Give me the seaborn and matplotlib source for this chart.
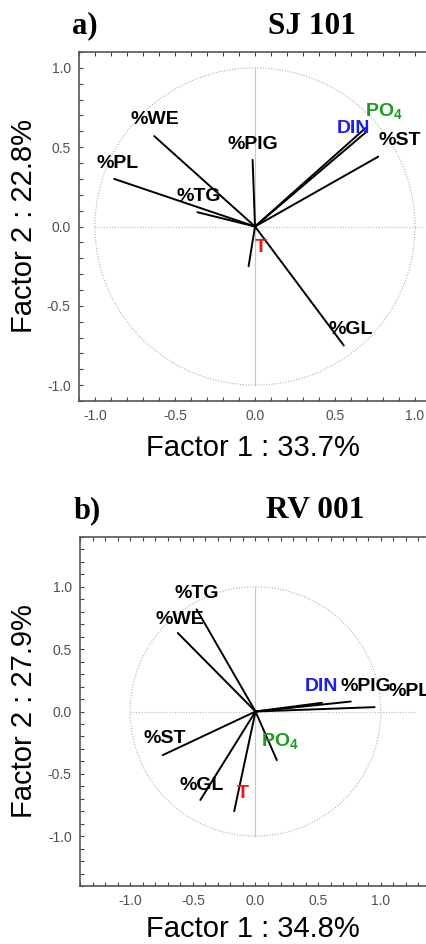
import numpy as np
import pandas as pd
import seaborn as sns
import matplotlib.pyplot as plt
from matplotlib.patches import Circle
from matplotlib.ticker import MultipleLocator

# ---- data: factor loadings
sj_vars = ['%WE', '%PL', '%TG', '%PIG', 'DIN', 'PO4', '%ST', '%GL', 'T']
sj_f1 = [-0.63, -0.88, -0.36, -0.015, 0.70, 0.69, 0.77, 0.555, -0.04]
sj_f2 = [0.57, 0.30, 0.09, 0.42, 0.60, 0.62, 0.44, -0.75, -0.25]
sj_lab_x = [-0.78, -0.99, -0.49, -0.17, 0.51, 0.69, 0.77, 0.46, 0.0]
sj_lab_y = [0.675, 0.40, 0.19, 0.52, 0.62, 0.72, 0.54, -0.65, -0.13]

rv_vars = ['%TG', '%WE', '%PL', '%PIG', 'DIN', '%ST', '%GL', 'T', 'PO4']
rv_f1 = [-0.47, -0.62, 0.95, 0.76, 0.53, -0.74, -0.44, -0.17, 0.17]
rv_f2 = [0.82, 0.63, 0.035, 0.08, 0.07, -0.35, -0.71, -0.80, -0.39]
rv_lab_x = [-0.65, -0.80, 1.06, 0.68, 0.39, -0.89, -0.61, -0.15, 0.04]
rv_lab_y = [0.95, 0.74, 0.16, 0.20, 0.20, -0.22, -0.59, -0.66, -0.24]

colours = {'DIN': '#1f1fe6', 'PO4': '#1e9a1e', 'T': '#f01414'}

sns.set_style('ticks')
plt.rcParams['font.family'] = ['Liberation Sans', 'DejaVu Sans']
plt.rcParams['text.color'] = 'black'
plt.rcParams['mathtext.fontset'] = 'custom'
plt.rcParams['mathtext.bf'] = 'Liberation Sans:bold'
plt.rcParams['mathtext.rm'] = 'Liberation Sans'


def loading_df(names, f1, f2):
    '''two rows per variable (origin + end) so seaborn draws each vector'''
    rows = []
    for n, x, y in zip(names, f1, f2):
        rows.append({'var': n, 'x': 0.0, 'y': 0.0})
        rows.append({'var': n, 'x': x, 'y': y})
    return pd.DataFrame(rows)


def circle_plot(ax, names, f1, f2, lx, ly, lim, hline_end):
    # reference circle and axes cross
    ax.add_patch(Circle((0, 0), 1.0, fill=False, ls=(0, (1, 1.5)),
                        lw=0.8, color='#b0b0b0', zorder=1))
    ax.plot([0, 0], [-1, 1], color='#c8c8c8', lw=0.9, zorder=1)
    ax.plot([-1, hline_end], [0, 0], color='#b8b8b8', lw=0.8,
            ls=(0, (1, 1.5)), zorder=1)

    df = loading_df(names, f1, f2)
    sns.lineplot(data=df, x='x', y='y', units='var', estimator=None,
                 sort=False, color='black', lw=1.4, ax=ax, zorder=3)

    for n, x, y in zip(names, lx, ly):
        label = r'PO$_\mathbf{4}$' if n == 'PO4' else n
        ax.text(x, y, label, color=colours.get(n, 'black'), fontsize=14,
                fontweight='bold', ha='left', va='center', zorder=4)

    ax.set_xlim(-lim, lim)
    ax.set_ylim(-lim, lim)
    ax.xaxis.set_minor_locator(MultipleLocator(0.1))
    ax.yaxis.set_minor_locator(MultipleLocator(0.1))
    ticks = [-1.0, -0.5, 0.0, 0.5, 1.0]
    ax.set_xticks(ticks)
    ax.set_yticks(ticks)
    ax.set_xticklabels(['%.1f' % t for t in ticks])
    ax.set_yticklabels(['%.1f' % t for t in ticks])
    ax.tick_params(which='both', direction='in', top=True, right=True,
                   length=3, width=0.8, color='#444444',
                   labelsize=10, labelcolor='#505050', pad=6)
    for s in ax.spines.values():
        s.set_color('#555555')
        s.set_linewidth(1.2)
    ax.set_xlabel('')
    ax.set_ylabel('')


fig = plt.figure(figsize=(4.27, 9.44), dpi=100)
W, H = 427.0, 944.0

ax1 = fig.add_axes([79 / W, 1 - 401 / H, 352 / W, 349 / H])
circle_plot(ax1, sj_vars, sj_f1, sj_f2, sj_lab_x, sj_lab_y, 1.1, 1.1)

ax2 = fig.add_axes([80 / W, 1 - 886 / H, 351 / W, 349 / H])
circle_plot(ax2, rv_vars, rv_f1, rv_f2, rv_lab_x, rv_lab_y, 1.4, 1.27)

serif = ['Liberation Serif', 'DejaVu Serif']
fig.text(85 / W, 1 - 26 / H, 'a)', family=serif, fontsize=22,
         fontweight='bold', ha='center', va='center')
fig.text(312 / W, 1 - 26 / H, 'SJ 101', family=serif, fontsize=22.5,
         fontweight='bold', ha='center', va='center')
fig.text(87 / W, 1 - 511 / H, 'b)', family=serif, fontsize=22,
         fontweight='bold', ha='center', va='center')
fig.text(315 / W, 1 - 511 / H, 'RV 001', family=serif, fontsize=22.5,
         fontweight='bold', ha='center', va='center')

fig.text(253 / W, 1 - 448 / H, 'Factor 1 : 33.7%', fontsize=21,
         ha='center', va='center')
fig.text(24 / W, 1 - 226 / H, 'Factor 2 : 22.8%', fontsize=21,
         ha='center', va='center', rotation=90)
fig.text(253 / W, 1 - 929 / H, 'Factor 1 : 34.8%', fontsize=21,
         ha='center', va='center')
fig.text(24 / W, 1 - 711 / H, 'Factor 2 : 27.9%', fontsize=21,
         ha='center', va='center', rotation=90)

fig.savefig('out.png', dpi=100)
